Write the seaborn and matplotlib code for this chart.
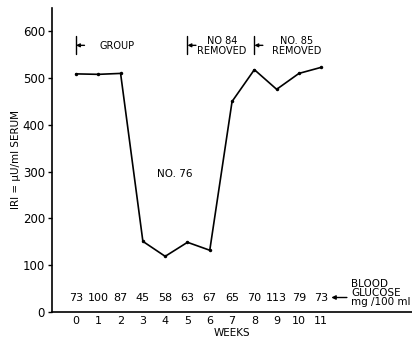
import matplotlib
matplotlib.use('Agg')
import pandas as pd
import matplotlib.pyplot as plt
import seaborn as sns

# Values
weeks = [0, 1, 2, 3, 4, 5, 6, 7, 8, 9, 10, 11]
iri = [509, 508, 510, 151, 119, 149, 132, 450, 518, 476, 510, 523]
glucose = [73, 100, 87, 45, 58, 63, 67, 65, 70, 113, 79, 73]
event_weeks = [0, 5, 8]
event_labels = ['GROUP', 'NO 84\nREMOVED', 'NO. 85\nREMOVED']
event_text_x = [1.85, 6.55, 9.9]

df = pd.DataFrame({'week': weeks, 'iri': iri})

sns.set_style('white')
plt.rcParams['font.family'] = ['DejaVu Sans']
plt.rcParams['text.color'] = 'black'
plt.rcParams['axes.labelcolor'] = 'black'
plt.rcParams['xtick.color'] = 'black'
plt.rcParams['ytick.color'] = 'black'

fig = plt.figure(figsize=(4.12, 3.44), dpi=100)
ax = fig.add_axes([0.126, 0.093, 0.874, 0.884])

sns.lineplot(data=df, x='week', y='iri', color='black', linewidth=1.2,
             marker='o', markersize=2.5, markeredgewidth=0, ax=ax)

ax.set_xlim(-1.08, 15.07)
ax.set_ylim(0, 650)
ax.set_xticks(weeks)
ax.set_yticks([0, 100, 200, 300, 400, 500, 600])
ax.tick_params(axis='x', direction='in', length=3, width=1, labelsize=8, pad=3)
ax.tick_params(axis='y', direction='out', length=3, width=1, labelsize=8.5, pad=2,
               left=True)
for s in ['top', 'right']:
    ax.spines[s].set_visible(False)
for s in ['left', 'bottom']:
    ax.spines[s].set_color('black')
    ax.spines[s].set_linewidth(1.2)

ax.set_xlabel('WEEKS', fontsize=7.5, labelpad=1)
ax.set_ylabel('IRI = \u03bcU/ml SERUM', fontsize=7.5, labelpad=1)

# blood glucose row
for w, g in zip(weeks, glucose):
    ax.text(w, 30, str(g), ha='center', va='center', fontsize=8)
ax.annotate('', xy=(11.45, 31), xytext=(12.15, 31),
            arrowprops=dict(arrowstyle='-|>', color='black', lw=1, mutation_scale=6,
                            shrinkA=0, shrinkB=0))
ax.text(12.35, 41, 'BLOOD\nGLUCOSE\nmg /100 ml', ha='left', va='center',
        fontsize=7.5, linespacing=0.9)

# event brackets
for w, lab, tx in zip(event_weeks, event_labels, event_text_x):
    ax.plot([w, w], [551, 590], color='black', lw=1)
    ax.annotate('', xy=(w, 570), xytext=(w + 0.38, 570),
                arrowprops=dict(arrowstyle='-|>', color='black', lw=1, mutation_scale=5,
                                shrinkA=0, shrinkB=0))
    ax.text(tx, 568, lab, ha='center', va='center', fontsize=7, linespacing=0.95)

ax.text(4.42, 294, 'NO. 76', ha='center', va='center', fontsize=7.5)

fig.savefig('out.png', dpi=100)
